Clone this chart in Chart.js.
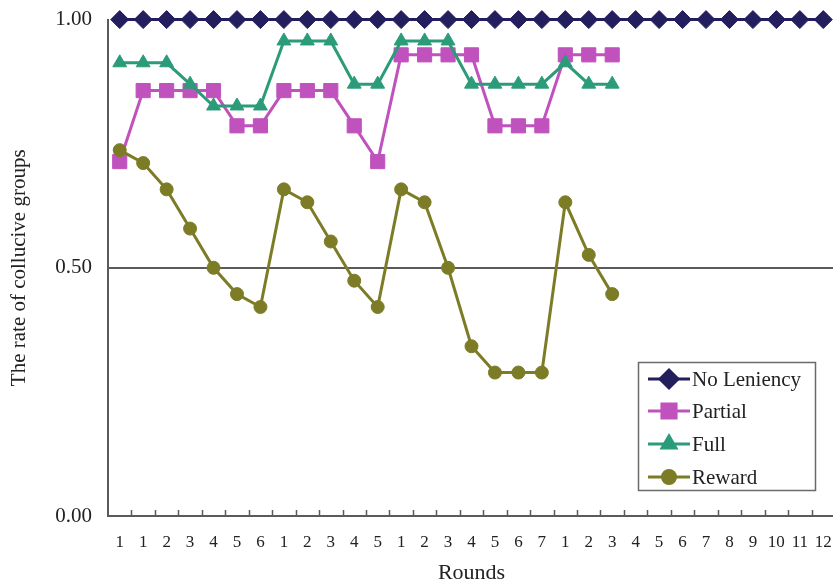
<!DOCTYPE html>
<html>
<head>
<meta charset="utf-8">
<script src="https://cdn.jsdelivr.net/npm/chart.js@4/dist/chart.umd.min.js"></script>
<style>
  html, body { margin: 0; padding: 0; overflow: hidden; background: #ffffff; width: 833px; height: 580px; }
  canvas { display: block; margin-top: -9px; }
</style>
</head>
<body>
<canvas id="chart" width="846" height="589"></canvas>
<script>
// Round numbers within each treatment session
const rounds = ['1','1','2','3','4','5','6','1','2','3','4','5','1','2','3','4','5','6','7',
                '1','2','3','4','5','6','7','8','9','10','11','12'];

// Rate of collusive groups per round
const noLeniency = [1.00,1.00,1.00,1.00,1.00,1.00,1.00,1.00,1.00,1.00,1.00,1.00,1.00,1.00,1.00,1.00,
                    1.00,1.00,1.00,1.00,1.00,1.00,1.00,1.00,1.00,1.00,1.00,1.00,1.00,1.00,1.00];
const partial = [0.714,0.857,0.857,0.857,0.857,0.786,0.786,0.857,0.857,0.857,0.786,0.714,
                 0.929,0.929,0.929,0.929,0.786,0.786,0.786,0.929,0.929,0.929];
const full = [0.913,0.913,0.913,0.870,0.826,0.826,0.826,0.957,0.957,0.957,0.870,0.870,
              0.957,0.957,0.957,0.870,0.870,0.870,0.870,0.913,0.870,0.870];
const reward = [0.737,0.711,0.658,0.579,0.500,0.447,0.421,0.658,0.632,0.553,0.474,0.421,
                0.658,0.632,0.500,0.342,0.289,0.289,0.289,0.632,0.526,0.447];

const yTicks = [0, 0.5, 1];

const SERIF = '"Liberation Serif", "Times New Roman", serif';
const TEXT = '#222222';
const AXIS = '#5a5a5a';

const seriesStyles = [
  { label: 'No Leniency', data: noLeniency, color: '#231f5e', pointStyle: 'rectRot', radius: 9,   order: 4 },
  { label: 'Partial',     data: partial,    color: '#c052bd', pointStyle: 'rect',    radius: 10,  order: 3 },
  { label: 'Full',        data: full,       color: '#2b9b79', pointStyle: 'triangle',radius: 8,   order: 2 },
  { label: 'Reward',      data: reward,     color: '#7c7c27', pointStyle: 'circle',  radius: 6.5, order: 1 }
];

// Small upward tick marks on the category axis, placed between categories
const innerTicks = {
  id: 'innerTicks',
  afterDraw(chart) {
    const x = chart.scales.x;
    const base = chart.chartArea.bottom;
    const ctx = chart.ctx;
    const n = x.ticks.length;
    const step = (x.right - x.left) / n;
    ctx.save();
    ctx.strokeStyle = AXIS;
    ctx.lineWidth = 1.5;
    ctx.beginPath();
    for (let i = 1; i < n; i++) {
      const px = Math.round(x.getPixelForTick(i) - step / 2) + 0.5;
      ctx.moveTo(px, base - 1);
      ctx.lineTo(px, base - 6);
    }
    ctx.stroke();
    ctx.restore();
  }
};

// Boxed legend sitting in the lower right of the plot
const boxLegend = {
  id: 'boxLegend',
  afterDraw(chart) {
    const ctx = chart.ctx;
    const dy = 9;
    const bx = 638, by = 362 + dy, bw = 177, bh = 128;
    ctx.save();
    ctx.fillStyle = '#ffffff';
    ctx.fillRect(bx, by, bw, bh);
    ctx.strokeStyle = '#6a6a6a';
    ctx.lineWidth = 1.5;
    ctx.strokeRect(bx + 0.5, by + 0.5, bw, bh);
    const rowY = [379, 411, 444, 477];
    chart.data.datasets.forEach((ds, i) => {
      const y = rowY[i] + dy;
      ctx.strokeStyle = ds.borderColor;
      ctx.lineWidth = 3;
      ctx.beginPath();
      ctx.moveTo(648, y);
      ctx.lineTo(690, y);
      ctx.stroke();
      ctx.fillStyle = ds.backgroundColor;
      Chart.helpers.drawPoint(ctx, {
        pointStyle: ds.pointStyle, radius: ds.pointRadius, rotation: 0, borderWidth: 1
      }, 669, y);
      ctx.fillStyle = TEXT;
      ctx.font = '21px ' + SERIF;
      ctx.textAlign = 'left';
      ctx.textBaseline = 'middle';
      ctx.fillText(ds.label, 692, y + 1);
    });
    ctx.restore();
  }
};

new Chart(document.getElementById('chart'), {
  type: 'line',
  data: {
    labels: rounds,
    datasets: seriesStyles.map(s => ({
      label: s.label,
      data: s.data,
      borderColor: s.color,
      backgroundColor: s.color,
      pointBackgroundColor: s.color,
      pointBorderColor: s.color,
      pointStyle: s.pointStyle,
      pointRadius: s.radius,
      pointBorderWidth: 1,
      borderWidth: 3,
      tension: 0,
      fill: false,
      clip: false,
      order: s.order
    }))
  },
  options: {
    responsive: false,
    animation: false,
    events: [],
    layout: { padding: { top: 10, left: 0, right: 0, bottom: 0 } },
    plugins: {
      legend: { display: false },
      tooltip: { enabled: false }
    },
    scales: {
      x: {
        type: 'category',
        offset: true,
        grid: { display: false, offset: true },
        border: { display: true, color: AXIS, width: 2 },
        ticks: {
          color: TEXT,
          font: { family: SERIF, size: 17 },
          padding: 8,
          maxRotation: 0,
          autoSkip: false
        },
        title: {
          display: true,
          text: 'Rounds',
          color: TEXT,
          font: { family: SERIF, size: 22, lineHeight: 1 },
          padding: { top: 0, bottom: -4 }
        },
        afterFit(scale) { scale.height = 64; }
      },
      y: {
        min: 0,
        max: 1,
        afterBuildTicks(scale) { scale.ticks = yTicks.map(v => ({ value: v })); },
        grid: {
          drawTicks: false,
          lineWidth: 2,
          color: ctx => (ctx.tick && ctx.tick.value === 0.5) ? AXIS : 'rgba(0,0,0,0)'
        },
        border: { display: true, color: AXIS, width: 2 },
        ticks: {
          color: TEXT,
          font: { family: SERIF, size: 21 },
          padding: 16,
          callback: v => Number(v).toFixed(2)
        },
        title: {
          display: true,
          text: 'The rate of collucive groups',
          color: TEXT,
          font: { family: SERIF, size: 21, lineHeight: 1 },
          padding: { top: 9, bottom: 0 }
        },
        afterFit(scale) { scale.width = 108; }
      }
    }
  },
  plugins: [innerTicks, boxLegend]
});
</script>
</body>
</html>
